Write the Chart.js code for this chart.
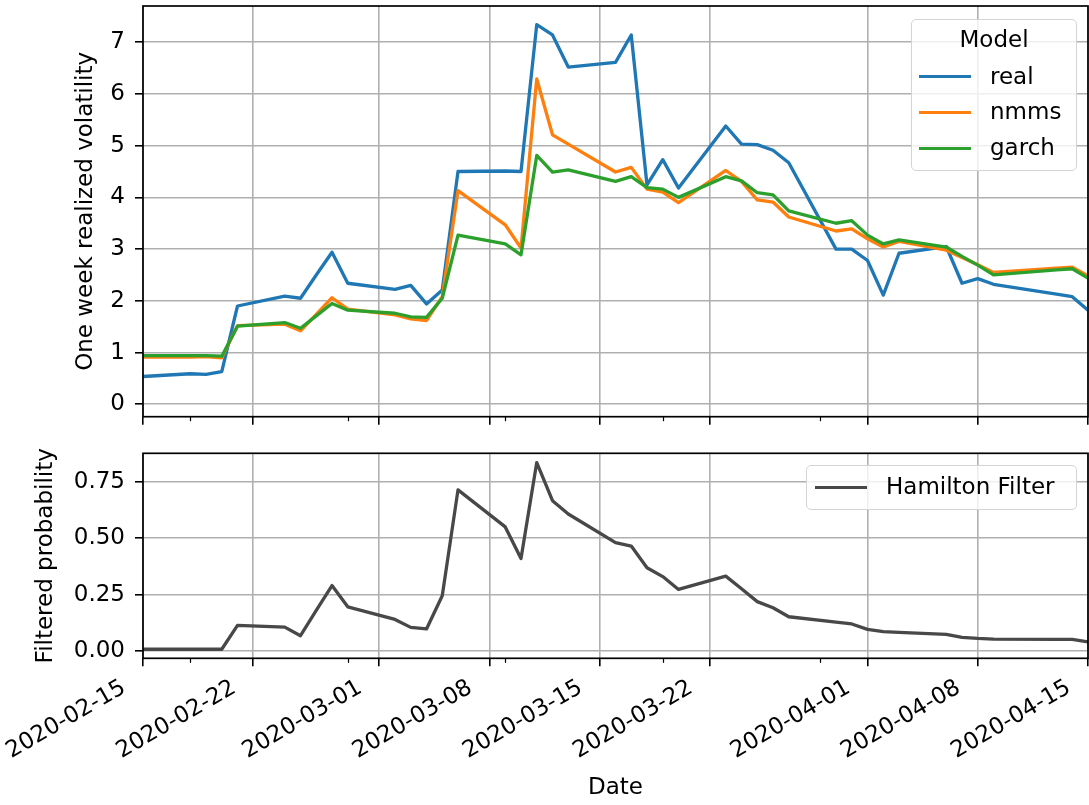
<!DOCTYPE html>
<html>
<head>
<meta charset="utf-8">
<script src="https://cdn.jsdelivr.net/npm/chart.js@4.4.1/dist/chart.umd.min.js"></script>
<style>
  html, body { margin: 0; padding: 0; background: #fff; }
  #wrap { position: relative; width: 1089px; height: 805px; font-family: "DejaVu Sans", sans-serif; }
  #wrap canvas { position: absolute; left: 0; }
  #volChart { top: 0; }
  #probChart { top: 430px; }
  .legend { position: absolute; box-sizing: border-box; background: rgba(255,255,255,0.8);
            border: 1.5px solid #d4d4d4; border-radius: 5px; font-size: 23px; line-height: 27px; color: #000; }
  .legend .ttl { position: absolute; left: 0; right: 0; text-align: center; }
  .legend .row { position: absolute; left: 0; right: 0; height: 27px; white-space: nowrap; }
  .legend .swatch { position: absolute; height: 3.3px; }
  .legend .lbl { position: absolute; }
</style>
</head>
<body>
<div id="wrap">
  <canvas id="volChart" width="1089" height="430"></canvas>
  <canvas id="probChart" width="1089" height="375"></canvas>
</div>
<script>
// trading days, one week realized volatility and filtered regime probability
const dates = [
  '2020-02-14', '2020-02-18', '2020-02-19', '2020-02-20', '2020-02-21', '2020-02-24',
  '2020-02-25', '2020-02-26', '2020-02-27', '2020-02-28', '2020-03-02', '2020-03-03',
  '2020-03-04', '2020-03-05', '2020-03-06', '2020-03-09', '2020-03-10', '2020-03-11',
  '2020-03-12', '2020-03-13', '2020-03-16', '2020-03-17', '2020-03-18', '2020-03-19',
  '2020-03-20', '2020-03-23', '2020-03-24', '2020-03-25', '2020-03-26', '2020-03-27',
  '2020-03-30', '2020-03-31', '2020-04-01', '2020-04-02', '2020-04-03', '2020-04-06',
  '2020-04-07', '2020-04-08', '2020-04-09', '2020-04-13', '2020-04-14', '2020-04-15'
];
const real = [
  0.52, 0.59, 0.58, 0.63, 1.90, 2.09, 2.05, 2.50, 2.94, 2.34, 2.22, 2.30,
  1.94, 2.21, 4.50, 4.51, 4.50, 7.34, 7.14, 6.52, 6.61, 7.14, 4.24, 4.73,
  4.18, 5.38, 5.03, 5.02, 4.91, 4.67, 3.00, 3.00, 2.78, 2.11, 2.92, 3.05,
  2.34, 2.43, 2.32, 2.13, 2.08, 1.82
];
const nmms = [
  0.91, 0.91, 0.92, 0.90, 1.52, 1.55, 1.42, 1.74, 2.06, 1.84, 1.73, 1.65,
  1.62, 2.08, 4.13, 3.47, 3.02, 6.29, 5.21, 5.03, 4.49, 4.58, 4.16, 4.10,
  3.90, 4.52, 4.31, 3.95, 3.91, 3.62, 3.35, 3.39, 3.20, 3.04, 3.15, 2.98,
  2.84, 2.70, 2.55, 2.63, 2.65, 2.48
];
const garch = [
  0.94, 0.94, 0.94, 0.93, 1.51, 1.58, 1.47, 1.71, 1.95, 1.82, 1.76, 1.69,
  1.68, 2.05, 3.27, 3.10, 2.89, 4.81, 4.49, 4.53, 4.31, 4.40, 4.19, 4.16,
  4.00, 4.40, 4.32, 4.09, 4.05, 3.74, 3.50, 3.55, 3.27, 3.10, 3.18, 3.04,
  2.86, 2.69, 2.50, 2.60, 2.62, 2.44
];
const hamilton = [
  0.008, 0.008, 0.008, 0.008, 0.114, 0.106, 0.068, 0.180, 0.290, 0.196, 0.140, 0.105,
  0.098, 0.245, 0.714, 0.550, 0.410, 0.835, 0.666, 0.607, 0.480, 0.465, 0.369, 0.330,
  0.273, 0.332, 0.276, 0.219, 0.192, 0.152, 0.128, 0.120, 0.096, 0.086, 0.083, 0.074,
  0.061, 0.056, 0.053, 0.052, 0.052, 0.041
];

const modelNames = ['real', 'nmms', 'garch'];
const modelColors = ['#1f77b4', '#ff7f0e', '#2ca02c'];
const filterName = 'Hamilton Filter';
const filterColor = '#484848';

const xStart = '2020-02-15';
const xEnd = '2020-04-15';
const xTickDates = ['2020-02-15', '2020-02-22', '2020-03-01', '2020-03-08', '2020-03-15',
                    '2020-03-22', '2020-04-01', '2020-04-08', '2020-04-15'];
const xMinorDates = ['2020-02-18', '2020-02-28', '2020-03-09', '2020-03-19', '2020-03-29'];
const volTicks = [0, 1, 2, 3, 4, 5, 6, 7];
const volRange = [-0.24, 7.70];
const probTicks = [0, 0.25, 0.5, 0.75];
const probRange = [-0.032, 0.876];

const FONT = { family: 'DejaVu Sans', size: 23 };
const dayOf = d => (Date.parse(d) - Date.parse(xStart)) / 86400000;
const points = vals => dates.map((d, i) => ({ x: dayOf(d), y: vals[i] }));

// box outline (all four spines) plus the small minor ticks under the x axis
const frame = {
  id: 'frame',
  afterDatasetsDraw(chart) {
    const { ctx, chartArea: a, scales } = chart;
    ctx.save();
    ctx.strokeStyle = '#000';
    ctx.lineWidth = 1.2;
    xMinorDates.forEach(d => {
      const px = Math.round(scales.x.getPixelForValue(dayOf(d))) + 0.5;
      ctx.beginPath();
      ctx.moveTo(px, a.bottom);
      ctx.lineTo(px, a.bottom + 4.5);
      ctx.stroke();
    });
    ctx.lineWidth = 1.7;
    ctx.strokeRect(a.left, a.top, a.right - a.left, a.bottom - a.top);
    ctx.restore();
  }
};

function xScale(showLabels, height) {
  return {
    type: 'linear',
    min: 0,
    max: dayOf(xEnd),
    afterBuildTicks: s => { s.ticks = xTickDates.map(d => ({ value: dayOf(d) })); },
    afterFit: s => { s.height = height; s.paddingLeft = 0; s.paddingRight = 0; },
    border: { display: false },
    grid: { color: '#b0b0b0', lineWidth: 1.6, tickColor: '#000', tickWidth: 1.6, tickLength: 8 },
    ticks: {
      display: showLabels,
      autoSkip: false,
      minRotation: 30,
      maxRotation: 30,
      padding: 8,
      labelOffset: -19,
      color: '#000',
      font: FONT,
      callback: (v, i) => xTickDates[i]
    },
    title: { display: showLabels, text: 'Date', color: '#000', font: FONT, padding: { top: 0, bottom: 3 } }
  };
}

function yScale(range, ticks, fmt, title, titlePad) {
  return {
    min: range[0],
    max: range[1],
    afterBuildTicks: s => { s.ticks = ticks.map(v => ({ value: v })); },
    afterFit: s => { s.width = 143; s.paddingTop = 0; s.paddingBottom = 0; },
    border: { display: false },
    grid: { color: '#b0b0b0', lineWidth: 1.6, tickColor: '#000', tickWidth: 1.6, tickLength: 8 },
    ticks: { padding: 10, color: '#000', font: FONT, callback: fmt },
    title: { display: true, text: title, color: '#000', font: FONT, padding: { top: titlePad, bottom: 0 } }
  };
}

const lineStyle = { fill: false, pointRadius: 0, borderWidth: 3.3, tension: 0,
                    borderJoinStyle: 'round', borderCapStyle: 'butt' };

const volChart = new Chart(document.getElementById('volChart'), {
  type: 'line',
  data: {
    datasets: [real, nmms, garch].map((vals, i) => ({
      ...lineStyle,
      label: modelNames[i],
      data: points(vals),
      borderColor: modelColors[i],
      backgroundColor: modelColors[i],
      order: 2 - i
    }))
  },
  options: {
    responsive: false,
    animation: false,
    layout: { padding: { top: 6, right: 1, left: 0, bottom: 0 } },
    scales: {
      x: xScale(false, 13.3),
      y: yScale(volRange, volTicks, v => String(v), 'One week realized volatility', 72)
    },
    plugins: { legend: { display: false }, tooltip: { enabled: false } }
  },
  plugins: [frame]
});

const probChart = new Chart(document.getElementById('probChart'), {
  type: 'line',
  data: {
    datasets: [{
      ...lineStyle,
      label: filterName,
      data: points(hamilton),
      borderColor: filterColor,
      backgroundColor: filterColor
    }]
  },
  options: {
    responsive: false,
    animation: false,
    layout: { padding: { top: 23.3, right: 1, left: 0, bottom: 0 } },
    scales: {
      x: xScale(true, 146.7),
      y: yScale(probRange, probTicks, v => v.toFixed(2), 'Filtered probability', 32)
    },
    plugins: { legend: { display: false }, tooltip: { enabled: false } }
  },
  plugins: [frame]
});

// legend boxes, built from the chart datasets
function addLegend(chart, box) {
  const wrap = document.getElementById('wrap');
  const el = document.createElement('div');
  el.className = 'legend';
  Object.assign(el.style, { left: box.left + 'px', top: box.top + 'px', width: box.width + 'px', height: box.height + 'px' });
  if (box.title) {
    const t = document.createElement('div');
    t.className = 'ttl';
    t.style.top = box.titleTop + 'px';
    t.textContent = box.title;
    el.appendChild(t);
  }
  chart.data.datasets.forEach((ds, i) => {
    const row = document.createElement('div');
    row.className = 'row';
    row.style.top = (box.rowTop + i * box.rowStep) + 'px';
    const sw = document.createElement('div');
    sw.className = 'swatch';
    Object.assign(sw.style, { left: box.swLeft + 'px', width: box.swWidth + 'px', top: '12.5px', background: ds.borderColor });
    const lb = document.createElement('div');
    lb.className = 'lbl';
    lb.style.left = box.textLeft + 'px';
    lb.textContent = ds.label;
    row.appendChild(sw);
    row.appendChild(lb);
    el.appendChild(row);
  });
  wrap.appendChild(el);
}

addLegend(volChart, { left: 911, top: 19, width: 166, height: 152, title: 'Model', titleTop: 6,
                      rowTop: 42.6, rowStep: 35.8, swLeft: 7, swWidth: 52, textLeft: 78 });
addLegend(probChart, { left: 806, top: 465, width: 271, height: 45,
                       rowTop: 7, rowStep: 0, swLeft: 8, swWidth: 52, textLeft: 79 });
</script>
</body>
</html>
